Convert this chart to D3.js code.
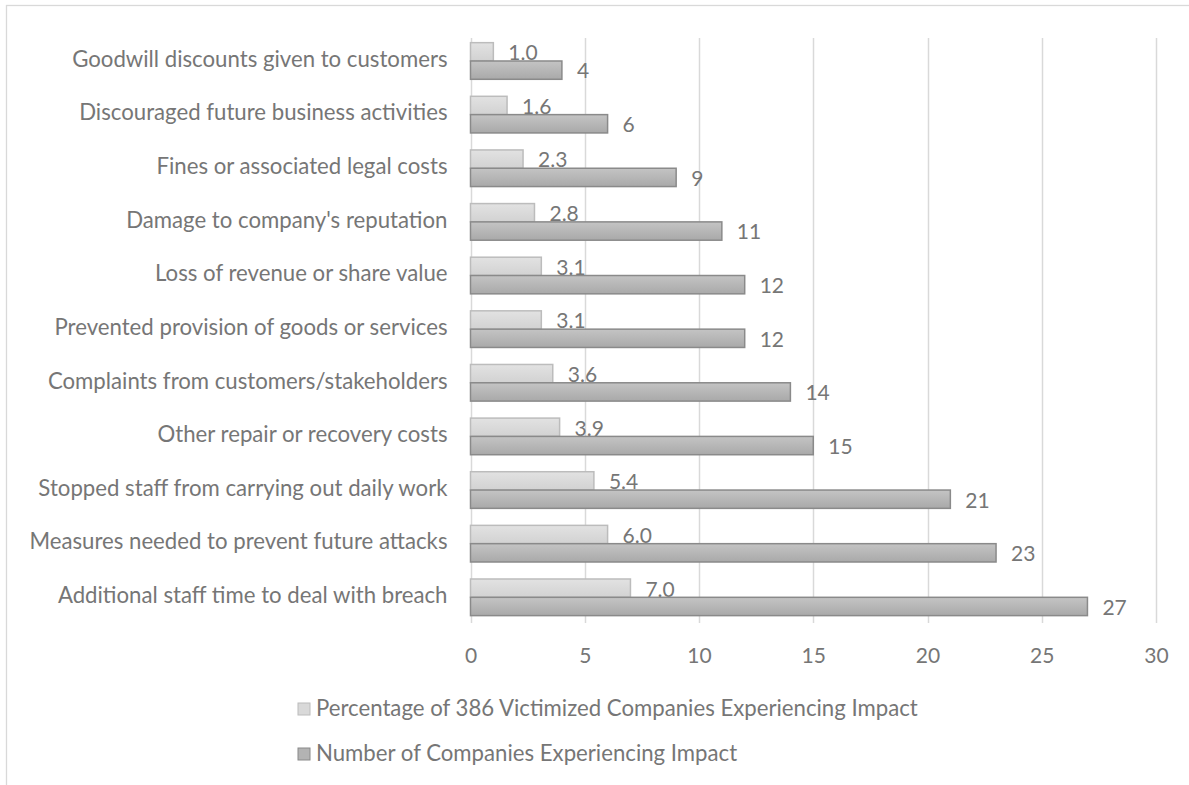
<!DOCTYPE html>
<html>
<head>
<meta charset="utf-8">
<script src="https://cdn.jsdelivr.net/npm/d3@7"></script>
<style>
  html, body { margin: 0; padding: 0; background: #fff; }
  svg { display: block; }
  text { font-family: Lato, "Open Sans", sans-serif; fill: #767676; }
</style>
</head>
<body>
<svg id="chart" width="1189" height="785"></svg>
<script>
const categories = [
  "Goodwill discounts given to customers",
  "Discouraged future business activities",
  "Fines or associated legal costs",
  "Damage to company's reputation",
  "Loss of revenue or share value",
  "Prevented provision of goods or services ",
  "Complaints from customers/stakeholders",
  "Other repair or recovery costs",
  "Stopped staff from carrying out daily work",
  "Measures needed to prevent future attacks",
  "Additional staff time to deal with breach"
];
const percentValues = [1.0, 1.6, 2.3, 2.8, 3.1, 3.1, 3.6, 3.9, 5.4, 6.0, 7.0];
const countValues   = [4, 6, 9, 11, 12, 12, 14, 15, 21, 23, 27];
const xTicks = [0, 5, 10, 15, 20, 25, 30];
const seriesNames = [
  "Percentage of 386 Victimized Companies Experiencing Impact",
  "Number of Companies Experiencing Impact"
];
const seriesKeys = ["pct", "num"];

const rows = categories.map((c, i) => ({ cat: c, pct: percentValues[i], num: countValues[i] }));

const svg = d3.select("#chart");
const FONT = "Lato, 'Open Sans', sans-serif";
const TEXT_SIZE = 22.2;
const NUM_SIZE = 21;

// outer chart border
svg.append("rect")
  .attr("x", 6.5).attr("y", 5.5)
  .attr("width", 1300).attr("height", 900)
  .attr("fill", "none").attr("stroke", "#d9d9d9").attr("stroke-width", 1.3);

const defs = svg.append("defs");
const g1 = defs.append("linearGradient").attr("id", "gradLight").attr("x1", 0).attr("y1", 0).attr("x2", 0).attr("y2", 1);
g1.append("stop").attr("offset", "0%").attr("stop-color", "#e2e2e2");
g1.append("stop").attr("offset", "100%").attr("stop-color", "#d2d2d2");
const g2 = defs.append("linearGradient").attr("id", "gradDark").attr("x1", 0).attr("y1", 0).attr("x2", 0).attr("y2", 1);
g2.append("stop").attr("offset", "0%").attr("stop-color", "#c4c4c4");
g2.append("stop").attr("offset", "100%").attr("stop-color", "#a9a9a9");

const fills = { pct: "url(#gradLight)", num: "url(#gradDark)" };
const strokes = { pct: "#bcbcbc", num: "#8a8a8a" };
const legendFills = { pct: "#d9d9d9", num: "#b3b3b3" };

const plot = { left: 470.5, right: 1156, top: 34.2, bottom: 624.1, gridTop: 38, gridBottom: 623 };

const x = d3.scaleLinear().domain([0, 30]).range([plot.left, plot.right]);
const y = d3.scaleBand().domain(categories).range([plot.top, plot.bottom])
  .paddingInner(0.317).paddingOuter(0.158);
const ySub = d3.scaleBand().domain(seriesKeys).range([0, y.bandwidth()]);

// gridlines
svg.append("g").selectAll("line").data(xTicks).join("line")
  .attr("x1", d => Math.round(x(d)) + 0.5).attr("x2", d => Math.round(x(d)) + 0.5)
  .attr("y1", plot.gridTop).attr("y2", plot.gridBottom)
  .attr("stroke", "#d9d9d9").attr("stroke-width", 1.5);

// x axis tick labels
const xAxis = d3.axisBottom(x).tickValues(xTicks).tickSize(0).tickPadding(0);
const xg = svg.append("g").attr("transform", `translate(0,648)`).call(xAxis);
xg.select(".domain").remove();
xg.selectAll("text").attr("font-size", NUM_SIZE).attr("fill", "#767676")
  .style("font-family", FONT);

// category labels
const yAxis = d3.axisLeft(y).tickSize(0).tickPadding(23);
const yg = svg.append("g").attr("transform", `translate(${plot.left},0)`).call(yAxis);
yg.select(".domain").remove();
yg.selectAll("text").attr("font-size", TEXT_SIZE).attr("fill", "#767676")
  .style("font-family", FONT)
  .attr("dy", "0.35em").attr("y", -2);

// bars
const groups = svg.append("g").selectAll("g").data(rows).join("g")
  .attr("transform", d => `translate(0,${y(d.cat)})`);

seriesKeys.forEach(k => {
  groups.append("rect")
    .attr("x", x(0))
    .attr("y", ySub(k))
    .attr("width", d => x(d[k]) - x(0))
    .attr("height", ySub.bandwidth())
    .attr("fill", fills[k])
    .attr("stroke", strokes[k])
    .attr("stroke-width", 1.5);
  groups.append("text")
    .attr("x", d => x(d[k]) + 15)
    .attr("y", ySub(k) + ySub.bandwidth() / 2 + 1)
    .attr("dy", "0.35em")
    .attr("font-size", NUM_SIZE)
    .attr("fill", "#767676")
    .text(d => k === "pct" ? d3.format(".1f")(d[k]) : d3.format("d")(d[k]));
});

// legend
const legend = svg.append("g").selectAll("g").data(seriesKeys).join("g")
  .attr("transform", (d, i) => `translate(298,${709 + i * 45})`);
legend.append("rect")
  .attr("x", 0).attr("y", -6).attr("width", 12).attr("height", 12)
  .attr("fill", d => legendFills[d]).attr("stroke", d => strokes[d]).attr("stroke-width", 1);
legend.append("text")
  .attr("x", 18).attr("y", -1).attr("dy", "0.35em")
  .attr("font-size", TEXT_SIZE)
  .text((d, i) => seriesNames[i]);
</script>
</body>
</html>
